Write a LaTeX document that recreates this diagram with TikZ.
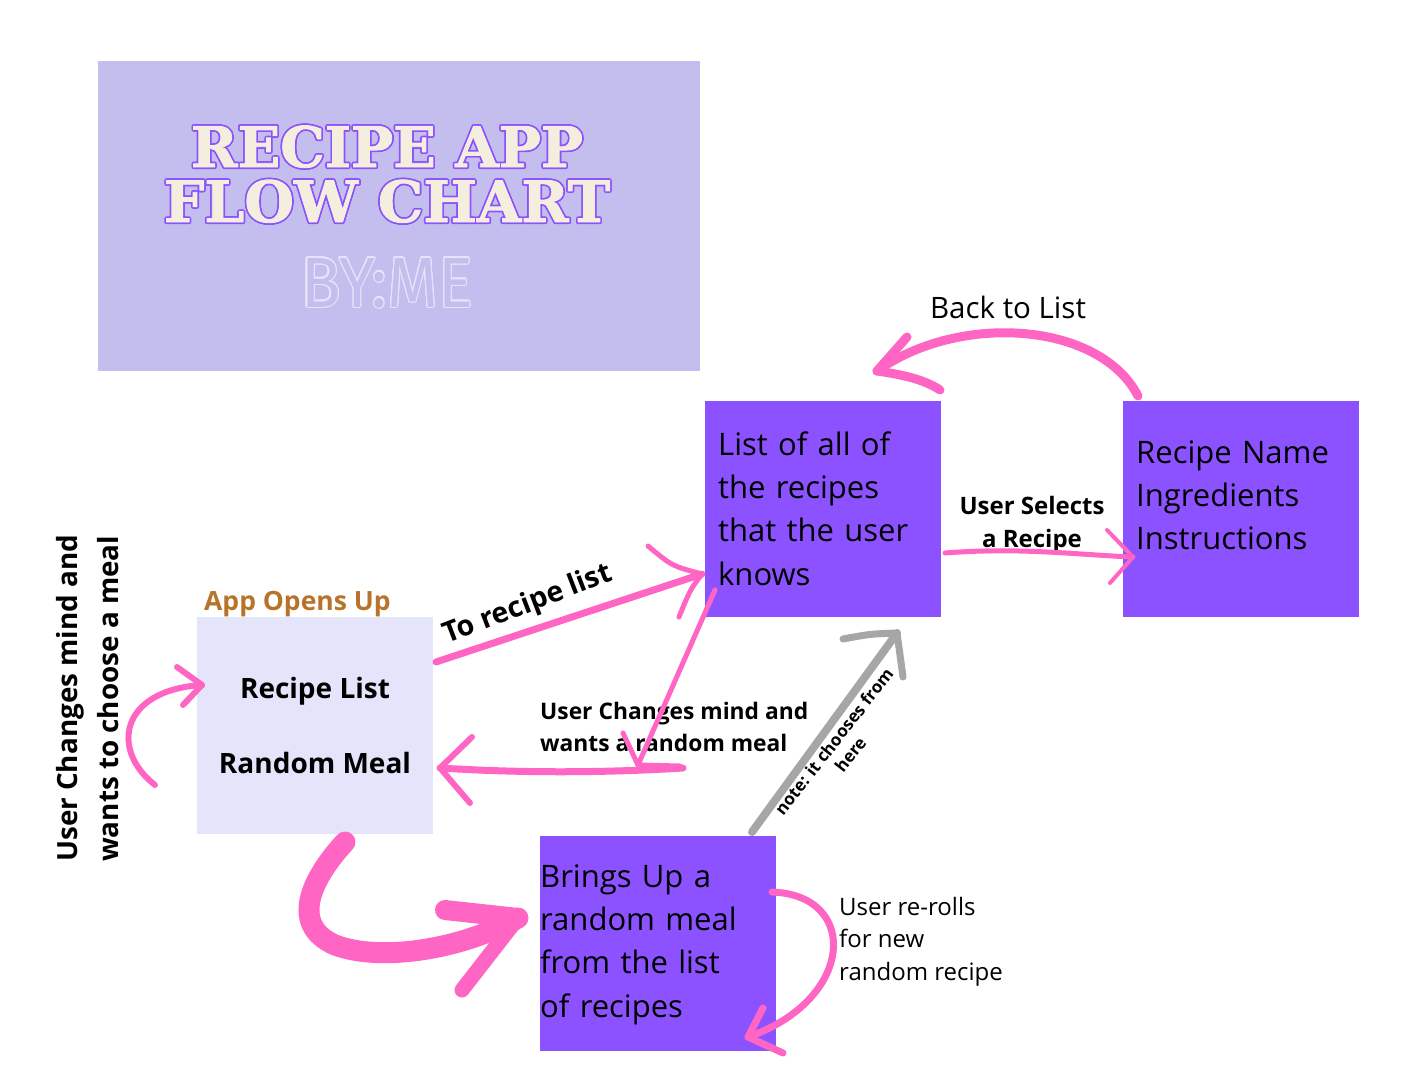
\documentclass[tikz,border=0pt]{standalone}
\usepackage{fontspec}
\setmainfont{Open Sans}
\newfontfamily\titlefont{DejaVu Serif}[BoldFeatures={FakeBold=1.5}]
\newfontfamily\bymefont{Fira Sans}
\usepackage{contour}
\definecolor{pinkc}{HTML}{FF66C4}
\definecolor{boxpurple}{HTML}{8C52FF}
\definecolor{lavbox}{HTML}{E4E4FA}
\definecolor{titlebg}{HTML}{C4BEEE}
\definecolor{cream}{HTML}{F3EEDD}
\definecolor{orangec}{HTML}{B8732B}
\definecolor{greyc}{HTML}{A6A6A6}
\definecolor{bymec}{HTML}{E6E3FA}
\begin{document}
\begin{tikzpicture}[x=1pt,y=-1pt,
  brush/.style={draw=pinkc, line width=6pt, line cap=round, line join=round},
  greybrush/.style={draw=greyc, line width=7pt, line cap=round, line join=round},
  box/.style={fill=boxpurple, minimum width=236pt, minimum height=216pt, anchor=north west, inner sep=0pt},
  boxtext/.style={font=\fontsize{31}{43.4}\selectfont, align=left, text width=230pt, inner sep=0pt, anchor=base west},
  blbl/.style={font=\bfseries\fontsize{22.8}{32}\selectfont, inner sep=0pt},
  rlbl/.style={font=\fontsize{24}{32.5}\selectfont, inner sep=0pt}]
\useasboundingbox (0,0) rectangle (1406,1065);
\fill[white] (0,0) rectangle (1406,1065);

% title panel
\node[fill=titlebg, minimum width=602pt, minimum height=310pt, anchor=north west, inner sep=0pt] (title) at (98,61) {};
\node[anchor=base, inner sep=0pt, font=\titlefont\bfseries\fontsize{56}{56}\selectfont, text=cream] (t1) at (387,167) {\contourlength{1.6pt}\contour{boxpurple}{RECIPE APP}};
\node[anchor=base, inner sep=0pt, font=\titlefont\bfseries\fontsize{57}{57}\selectfont, text=cream] (t2) at (387,222) {\contourlength{1.6pt}\contour{boxpurple}{FLOW CHART}};
\node[anchor=base, inner sep=0pt, font=\bymefont\fontsize{71}{71}\selectfont, text=titlebg] (by) at (387,307) {\scalebox{0.92}[1]{\contourlength{1.2pt}\contour{bymec}{BY:ME}}};

% start box
\node[box, fill=lavbox, minimum height=217pt] (start) at (197,617) {};
\node[anchor=base west, inner sep=0pt, font=\bfseries\fontsize{26.5}{26.5}\selectfont, text=orangec] (open) at (204,610) {App Opens Up};
\node[anchor=base, inner sep=0pt, font=\bfseries\fontsize{28}{28}\selectfont] (rl) at (315,698) {Recipe List};
\node[anchor=base, inner sep=0pt, font=\bfseries\fontsize{28}{28}\selectfont] (rm) at (315,773) {Random Meal};

% list box
\node[box] (list) at (705,401) {};
\node[boxtext] (listtxt) at (718,455) {List of all of\\the recipes\\that the user\\knows};

% recipe box
\node[box] (recipe) at (1123,401) {};
\node[boxtext] (rtxt) at (1136,463) {Recipe Name\\Ingredients\\Instructions};

% random box
\node[box, minimum height=215pt] (random) at (540,836) {};
\node[boxtext] (randtxt) at (540,887) {Brings Up a\\random meal\\from the list\\of recipes};

% labels (base anchor = baseline of the last line)
\node[anchor=base west, inner sep=0pt, rotate=21, font=\bfseries\fontsize{28.5}{28.5}\selectfont] (tolist) at (447,644) {To recipe list};
\node[blbl, anchor=base west, align=left] (chg) at (540,751) {User Changes mind and\\wants a random meal};
\node[anchor=base, inner sep=0pt, align=center, font=\bfseries\fontsize{24}{33}\selectfont] (sel) at (1032,547) {User Selects\\a Recipe};
\node[anchor=base, inner sep=0pt, font=\fontsize{29.5}{29.5}\selectfont] (back) at (1008,318) {Back to List};
\node[rlbl, anchor=base west, align=left] (reroll) at (839,980) {User re-rolls\\for new\\random recipe};
\node[anchor=base west, inner sep=0pt, rotate=90, align=left, font=\bfseries\fontsize{27.8}{41}\selectfont] (side) at (118,862) {User Changes mind and\\wants to choose a meal};
\node[anchor=center, inner sep=0pt, rotate=52, align=center, font=\bfseries\fontsize{17}{21}\selectfont] (note) at (842,748) {note: it chooses from\\here};

% connector end points
\coordinate (a1) at (436,662); \coordinate (a2) at (702,574);
\coordinate (b1) at (715,590); \coordinate (b2) at (638,765);
\coordinate (c1) at (683,768); \coordinate (c2) at (440,768);
\coordinate (d1) at (752,832); \coordinate (d2) at (897,633);
\coordinate (e1) at (945,553); \coordinate (e2) at (1133,557);
\coordinate (f1) at (1138,396); \coordinate (f2) at (877,371);
\coordinate (g1) at (155,785); \coordinate (g2) at (202,685);
\coordinate (h1) at (345,842); \coordinate (h2) at (518,918);
\coordinate (i1) at (772,892); \coordinate (i2) at (748,1037);

% to recipe list
\draw[brush, line width=7pt] (a1) -- (a2);
\draw[brush, line width=5pt] (648,546) .. controls (672,566) .. (a2) .. controls (690,590) .. (679,617);
% back to start box (random meal)
\draw[brush, line width=5pt] (b1) -- (b2);
\draw[brush, line width=5pt] (623,733) -- (b2) -- (680,766);
\draw[brush, line width=7pt] (c1) .. controls (600,773) and (520,773) .. (c2);
\draw[brush, line width=6pt] (472,737) -- (c2) -- (470,803);
% grey note arrow
\draw[greybrush, line width=8pt] (d1) -- (d2);
\draw[greybrush] (843,639) .. controls (870,634) .. (d2) -- (903,677);
% user selects
\draw[brush, line width=5pt] (e1) .. controls (1020,547) and (1080,555) .. (e2);
\draw[brush, line width=4pt] (1107,530) -- (e2) -- (1110,583);
% back to list
\draw[brush, line width=9pt] (f1) .. controls (1100,322) and (960,312) .. (f2);
\draw[brush, line width=9pt] (907,337) -- (f2) .. controls (905,375) and (925,380) .. (940,390);
% left loop
\draw[brush] (g1) .. controls (110,750) and (120,690) .. (g2);
\draw[brush] (177,667) -- (g2) -- (183,705);
% big bottom arrow
\draw[brush, line width=21pt] (h1) .. controls (310,880) and (290,925) .. (335,945) .. controls (380,962) and (460,950) .. (h2);
\draw[brush, line width=20pt] (445,910) -- (h2);
\draw[brush, line width=15pt] (h2) -- (462,990);
% re-roll
\draw[brush, line width=7pt] (i1) .. controls (860,895) and (855,1000) .. (i2);
\draw[brush, line width=7pt] (763,1008) -- (i2) -- (783,1053);
\end{tikzpicture}
\end{document}
